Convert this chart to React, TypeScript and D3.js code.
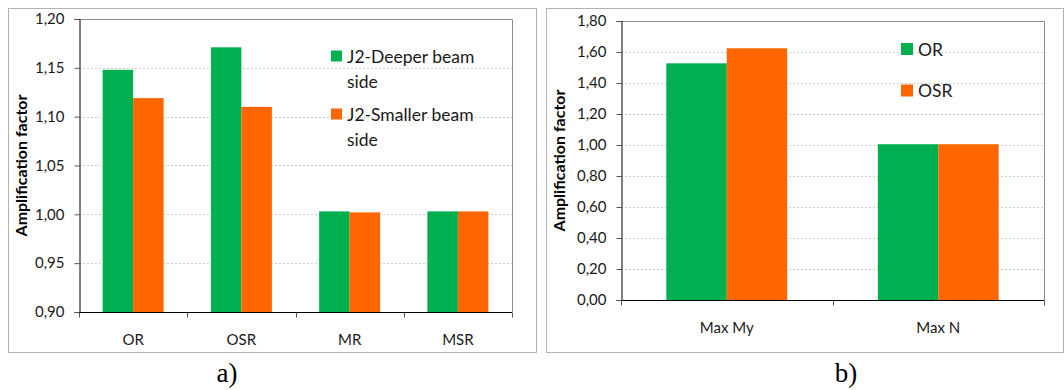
import React, { useRef, useEffect } from "react";
import * as d3 from "d3";

// panel a)
const catsA = ["OR", "OSR", "MR", "MSR"];
const seriesA = ["J2-Deeper beam side", "J2-Smaller beam side"];
const deeperA = [1.148, 1.171, 1.003, 1.003];
const smallerA = [1.119, 1.11, 1.002, 1.003];
const ticksA = [0.9, 0.95, 1.0, 1.05, 1.1, 1.15, 1.2];

// panel b)
const catsB = ["Max My", "Max N"];
const seriesB = ["OR", "OSR"];
const orB = [1.527, 1.005];
const osrB = [1.624, 1.005];
const ticksB = [0, 0.2, 0.4, 0.6, 0.8, 1.0, 1.2, 1.4, 1.6, 1.8];

const GREEN = "#00B050";
const ORANGE = "#FF6600";
const FONT = "Lato, 'Open Sans', sans-serif";

const fmt = (v) => d3.format(".2f")(v).replace(".", ",");

function drawPanel(svg, opts) {
  const { frame, plot, cats, series, values, ticks, outer, legend, caption } = opts;
  const g = svg.append("g");

  // outer frame
  g.append("rect")
    .attr("x", frame.x + 0.5)
    .attr("y", frame.y + 0.5)
    .attr("width", frame.w)
    .attr("height", frame.h)
    .attr("fill", "white")
    .attr("stroke", "#b3b3b3");

  const y = d3
    .scaleLinear()
    .domain([ticks[0], ticks[ticks.length - 1]])
    .range([plot.bottom, plot.top]);

  const x0 = d3.scaleBand().domain(cats).range([plot.left, plot.right]).padding(0);
  const x1 = d3
    .scaleBand()
    .domain(series)
    .range([0, x0.bandwidth()])
    .paddingInner(0)
    .paddingOuter(outer);

  // gridlines
  g.append("g")
    .selectAll("line")
    .data(ticks.slice(1, -1))
    .join("line")
    .attr("x1", plot.left)
    .attr("x2", plot.right)
    .attr("y1", (d) => Math.round(y(d)) + 0.5)
    .attr("y2", (d) => Math.round(y(d)) + 0.5)
    .attr("stroke", "#cfcfcf")
    .attr("stroke-dasharray", "2,2");

  // plot area top/right border
  g.append("path")
    .attr(
      "d",
      `M${plot.left},${Math.round(plot.top) + 0.5}H${Math.round(plot.right) + 0.5}V${plot.bottom}`
    )
    .attr("fill", "none")
    .attr("stroke", "#8c8c8c");

  // bars
  const colors = [GREEN, ORANGE];
  series.forEach((s, si) => {
    g.append("g")
      .attr("fill", colors[si])
      .selectAll("rect")
      .data(cats.map((c, i) => ({ c, v: values[si][i] })))
      .join("rect")
      .attr("x", (d) => x0(d.c) + x1(s))
      .attr("y", (d) => y(d.v))
      .attr("width", x1.bandwidth())
      .attr("height", (d) => y(ticks[0]) - y(d.v));
  });

  // y axis
  const yAxis = g
    .append("g")
    .attr("transform", `translate(${Math.round(plot.left) + 0.5},0)`)
    .call(d3.axisLeft(y).tickValues(ticks).tickFormat(fmt).tickSize(5).tickPadding(10));
  yAxis.select(".domain").attr("stroke", "#000");
  yAxis.selectAll(".tick line").attr("stroke", "#555");
  yAxis
    .selectAll("text")
    .attr("font-family", FONT)
    .attr("font-size", 15)
    .attr("fill", "#1a1a1a");

  // x axis line + boundary ticks
  const by = Math.round(plot.bottom) + 0.5;
  g.append("line")
    .attr("x1", plot.left)
    .attr("x2", plot.right)
    .attr("y1", by)
    .attr("y2", by)
    .attr("stroke", "#000");
  const bounds = cats.map((c) => x0(c)).concat([plot.right]);
  g.append("g")
    .selectAll("line")
    .data(bounds)
    .join("line")
    .attr("x1", (d) => Math.round(d) + 0.5)
    .attr("x2", (d) => Math.round(d) + 0.5)
    .attr("y1", by)
    .attr("y2", by + 5)
    .attr("stroke", "#555");
  g.append("g")
    .selectAll("text")
    .data(cats)
    .join("text")
    .attr("x", (d) => x0(d) + x0.bandwidth() / 2)
    .attr("y", plot.bottom + 33)
    .attr("text-anchor", "middle")
    .attr("font-family", FONT)
    .attr("font-size", 15)
    .attr("fill", "#1a1a1a")
    .text((d) => d);

  // y title
  g.append("text")
    .attr("transform", `translate(${frame.x + 12},${(plot.top + plot.bottom) / 2}) rotate(-90)`)
    .attr("text-anchor", "middle")
    .attr("dominant-baseline", "central")
    .attr("font-family", FONT)
    .attr("font-weight", "bold")
    .attr("font-size", 16)
    .text("Amplification factor");

  // legend
  series.forEach((s, si) => {
    const ly = legend.y + si * legend.step;
    g.append("rect")
      .attr("x", legend.x)
      .attr("y", ly - legend.box / 2)
      .attr("width", legend.box)
      .attr("height", legend.box)
      .attr("fill", colors[si]);
    const lines = legend.wrap ? [s.slice(0, s.lastIndexOf(" ")), s.slice(s.lastIndexOf(" ") + 1)] : [s];
    lines.forEach((ln, li) => {
      g.append("text")
        .attr("x", legend.x + legend.box + 5)
        .attr("y", ly + li * 25)
        .attr("dominant-baseline", "central")
        .attr("font-family", FONT)
        .attr("font-size", 17.5)
        .attr("fill", "#1a1a1a")
        .text(ln);
    });
  });

  // caption
  svg
    .append("text")
    .attr("x", caption.x)
    .attr("y", caption.y)
    .attr("text-anchor", "middle")
    .attr("font-family", "'Liberation Serif', 'Times New Roman', serif")
    .attr("font-size", 27)
    .text(caption.text);
}

const App = () => {
  const svgRef = useRef();

  useEffect(() => {
    const svg = d3.select(svgRef.current);
    svg.selectAll("*").remove();

    drawPanel(svg, {
      frame: { x: 8, y: 8, w: 528, h: 344 },
      plot: { left: 79, top: 19, right: 512, bottom: 312 },
      cats: catsA,
      series: seriesA,
      values: [deeperA, smallerA],
      ticks: ticksA,
      outer: 0.775,
      legend: { x: 331, y: 56, step: 58, box: 11, wrap: true },
      caption: { x: 227, y: 382, text: "a)" },
    });

    drawPanel(svg, {
      frame: { x: 546, y: 8, w: 517, h: 344 },
      plot: { left: 621, top: 21, right: 1044, bottom: 300 },
      cats: catsB,
      series: seriesB,
      values: [orB, osrB],
      ticks: ticksB,
      outer: 0.75,
      legend: { x: 901, y: 49, step: 41.5, box: 12, wrap: false },
      caption: { x: 846, y: 382, text: "b)" },
    });

    return () => {
      svg.selectAll("*").remove();
    };
  }, []);

  return (
    <svg
      ref={svgRef}
      width={1064}
      height={390}
      style={{ position: "absolute", left: 0, top: 0, background: "white" }}
    />
  );
};

export default App;
